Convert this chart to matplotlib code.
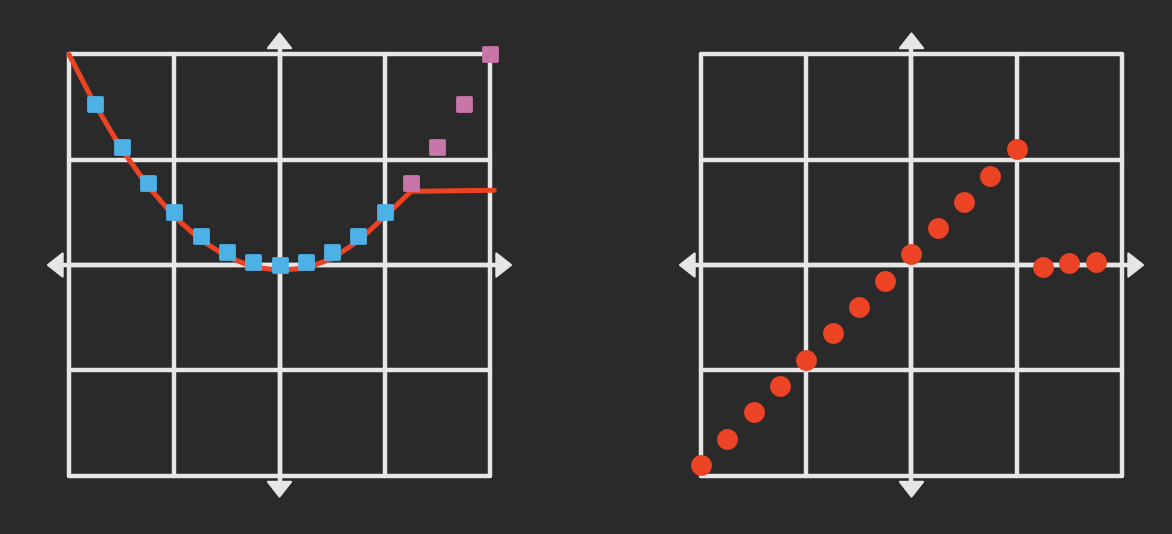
import matplotlib
matplotlib.use("Agg")
import matplotlib.pyplot as plt
from matplotlib.markers import MarkerStyle

# ---- data ----
blue_x = [-1.75, -1.5, -1.25, -1.0, -0.75, -0.5, -0.25, 0.0, 0.25, 0.5, 0.75, 1.0]
blue_y = [1.53, 1.12, 0.78, 0.5, 0.28, 0.12, 0.03, 0.0, 0.03, 0.12, 0.28, 0.5]
pink_x = [1.25, 1.5, 1.75, 2.0]
pink_y = [0.78, 1.12, 1.53, 2.0]
line_x = [-2.0, -1.75, -1.5, -1.25, -1.0, -0.75, -0.5, -0.25, 0.0, 0.25, 0.5, 0.75, 1.0, 1.25, 2.04]
line_y = [2.0, 1.52, 1.1, 0.75, 0.46, 0.24, 0.08, -0.02, -0.05, -0.03, 0.06, 0.23, 0.46, 0.70, 0.71]
dots_x = [-2.0, -1.75, -1.5, -1.25, -1.0, -0.75, -0.5, -0.25, 0.0, 0.25, 0.5, 0.75, 1.0, 1.25, 1.5, 1.75]
dots_y = [-1.9, -1.65, -1.4, -1.15, -0.9, -0.65, -0.4, -0.15, 0.1, 0.35, 0.6, 0.85, 1.1, -0.02, 0.02, 0.03]
grid_ticks = [-2, -1, 0, 1, 2]

BG = "#2a2a2a"
GRID = "#e6e6e6"
RED = "#ec4324"
BLUE = "#4db1e6"
PINK = "#c975aa"

fig = plt.figure(figsize=(11.72, 5.34), dpi=100, facecolor=BG)
W, H = 1172, 534
half = 2.4 * 105.25


def make_ax(cx):
    cy = 534 - 265
    ax = fig.add_axes([(cx - half) / W, (cy - half) / H, 2 * half / W, 2 * half / H])
    ax.set_facecolor(BG)
    ax.set_xlim(-2.4, 2.4)
    ax.set_ylim(-2.4, 2.4)
    ax.set_axis_off()
    lw = 3.2
    for t in grid_ticks:
        ax.plot([t, t], [-2, 2], color=GRID, lw=lw, solid_capstyle="round", zorder=1)
        ax.plot([-2, 2], [t, t], color=GRID, lw=lw, solid_capstyle="round", zorder=1)
    # axis extensions + arrowheads
    base, tip, hw = 2.06, 2.2, 0.11
    ax.plot([0, 0], [-base, base], color=GRID, lw=lw, zorder=1)
    ax.plot([-base, base], [0, 0], color=GRID, lw=lw, zorder=1)
    for s in (1, -1):
        ax.fill([-hw, hw, 0], [s * base, s * base, s * tip], facecolor=GRID, lw=1.5,
                edgecolor=GRID, joinstyle="round", zorder=1)
        ax.fill([s * base, s * base, s * tip], [-hw, hw, 0], facecolor=GRID, lw=1.5,
                edgecolor=GRID, joinstyle="round", zorder=1)
    return ax


sq = MarkerStyle("s", joinstyle="round")

ax1 = make_ax(279.5)
ax1.plot(line_x, line_y, color=RED, lw=3.6, solid_joinstyle="round",
         solid_capstyle="round", zorder=2)
ax1.plot(blue_x, blue_y, ls="none", marker=sq, ms=10, mfc=BLUE, mec=BLUE,
         mew=2.0, zorder=3)
ax1.plot(pink_x, pink_y, ls="none", marker=sq, ms=10, mfc=PINK, mec=PINK,
         mew=2.0, zorder=3)

ax2 = make_ax(911.5)
ax2.plot(dots_x, dots_y, ls="none", marker="o", ms=15, mfc=RED, mec=RED,
         mew=0, zorder=3)

fig.savefig("out.png", dpi=100, facecolor=BG)
